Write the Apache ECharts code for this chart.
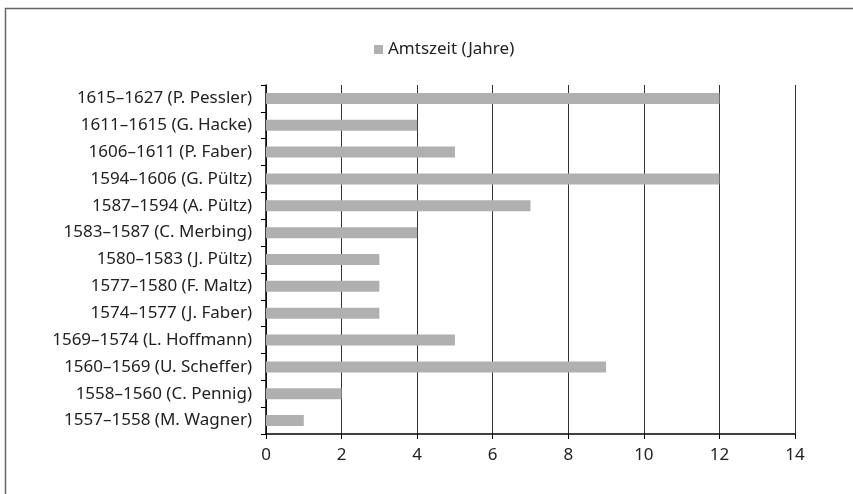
<!DOCTYPE html>
<html>
<head>
<meta charset="utf-8">
<script src="https://cdn.jsdelivr.net/npm/echarts@6/dist/echarts.min.js"></script>
<style>
  html, body { margin: 0; padding: 0; background: #fff; }
  #main { width: 853px; height: 494px; }
</style>
</head>
<body>
<div id="main"></div>
<script>
// Amtszeiten, von unten nach oben
var categories = [
  '1557–1558 (M. Wagner)',
  '1558–1560 (C. Pennig)',
  '1560–1569 (U. Scheffer)',
  '1569–1574 (L. Hoffmann)',
  '1574–1577 (J. Faber)',
  '1577–1580 (F. Maltz)',
  '1580–1583 (J. Pültz)',
  '1583–1587 (C. Merbing)',
  '1587–1594 (A. Pültz)',
  '1594–1606 (G. Pültz)',
  '1606–1611 (P. Faber)',
  '1611–1615 (G. Hacke)',
  '1615–1627 (P. Pessler)'
];
var years = [1, 2, 9, 5, 3, 3, 3, 4, 7, 12, 5, 4, 12];
var seriesName = 'Amtszeit (Jahre)';

var myChart = echarts.init(document.getElementById('main'));

var option = {
  animation: false,
  textStyle: { fontFamily: 'Noto Sans' },
  graphic: [{
    type: 'rect',
    left: 3, top: 6,
    shape: { width: 900, height: 520 },
    style: { fill: 'none', stroke: '#666', lineWidth: 1.5 },
    silent: true
  }],
  legend: {
    top: 36,
    left: 369,
    itemWidth: 9,
    itemHeight: 9,
    itemGap: 4,
    textStyle: { fontSize: 17, color: '#222', fontFamily: 'Noto Sans' },
    data: [{ name: seriesName, icon: 'rect' }]
  },
  grid: {
    left: 266,
    right: 58,
    top: 85,
    bottom: 60,
    containLabel: false
  },
  xAxis: {
    type: 'value',
    min: 0,
    max: 14,
    interval: 2,
    axisLine: { show: true, lineStyle: { color: '#000', width: 1.5 } },
    axisTick: { show: true, length: 5, lineStyle: { color: '#000' } },
    axisLabel: { color: '#222', fontSize: 17, margin: 13 },
    splitLine: { show: true, lineStyle: { color: '#333', width: 1 } }
  },
  yAxis: {
    type: 'category',
    data: categories,
    axisLine: { show: true, lineStyle: { color: '#000', width: 1.5 } },
    axisTick: { show: true, length: 5, alignWithLabel: false, lineStyle: { color: '#000' } },
    axisLabel: { color: '#222', fontSize: 17, margin: 14 }
  },
  series: [{
    name: seriesName,
    type: 'bar',
    data: years,
    barWidth: 11,
    itemStyle: { color: '#b0b0b0' }
  }]
};

myChart.setOption(option);
</script>
</body>
</html>
